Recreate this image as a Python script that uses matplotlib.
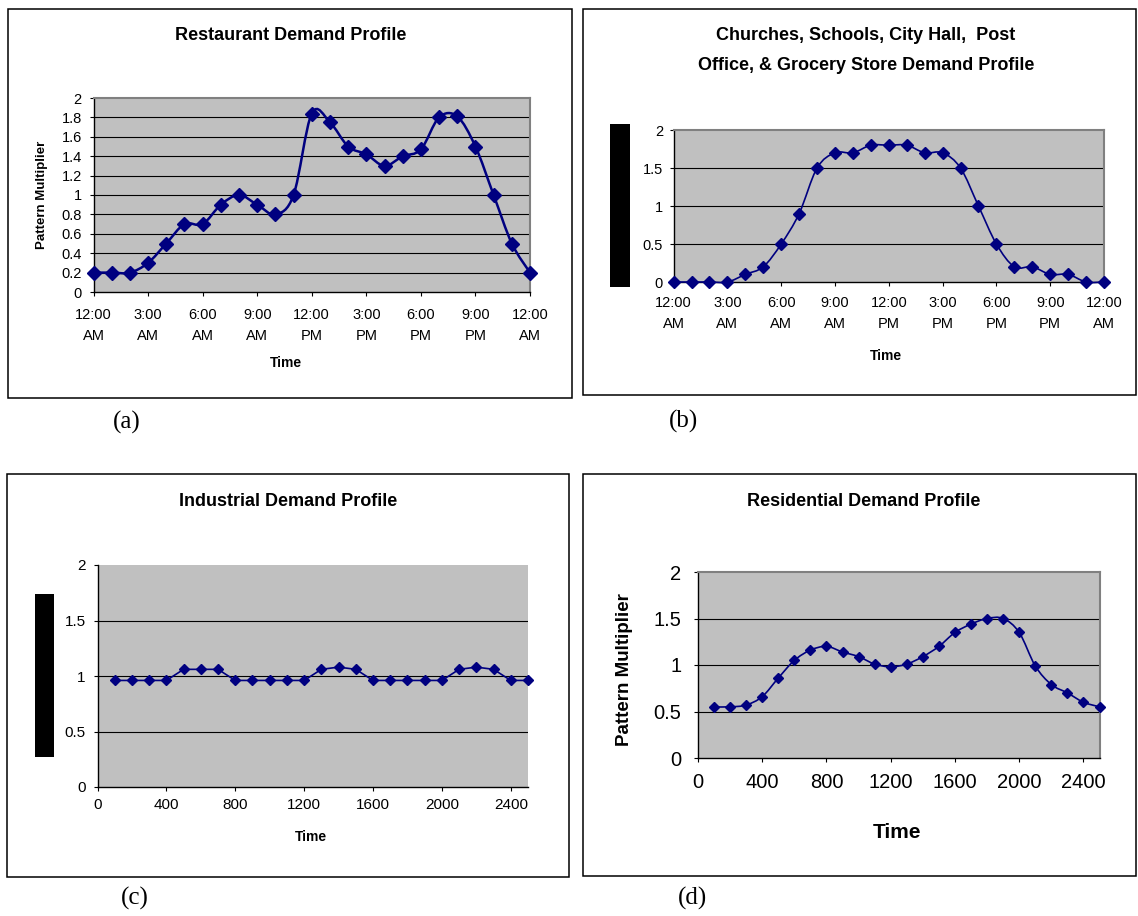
import numpy as np
import matplotlib
matplotlib.use('Agg')
import matplotlib.pyplot as plt
from matplotlib.path import Path
from matplotlib.patches import PathPatch, Rectangle

plt.rcParams['font.family'] = ['Liberation Sans', 'DejaVu Sans']

# ---------------- data ----------------
hours = [0, 1, 2, 3, 4, 5, 6, 7, 8, 9, 10, 11, 12, 13, 14, 15, 16, 17, 18, 19, 20, 21, 22, 23, 24]
hour_ticks = [0, 3, 6, 9, 12, 15, 18, 21, 24]
hour_labels = ['12:00\nAM', '3:00\nAM', '6:00\nAM', '9:00\nAM', '12:00\nPM',
               '3:00\nPM', '6:00\nPM', '9:00\nPM', '12:00\nAM']
restaurant = [0.2, 0.2, 0.2, 0.3, 0.5, 0.7, 0.7, 0.9, 1.0, 0.9, 0.8, 1.0, 1.84,
              1.75, 1.5, 1.42, 1.3, 1.4, 1.47, 1.8, 1.81, 1.5, 1.0, 0.5, 0.2]
public = [0, 0, 0, 0, 0.1, 0.2, 0.5, 0.9, 1.5, 1.7, 1.7, 1.8, 1.8, 1.8, 1.7, 1.7,
          1.5, 1.0, 0.5, 0.2, 0.2, 0.1, 0.1, 0, 0]

times = [100, 200, 300, 400, 500, 600, 700, 800, 900, 1000, 1100, 1200, 1300,
         1400, 1500, 1600, 1700, 1800, 1900, 2000, 2100, 2200, 2300, 2400, 2500]
time_ticks = [0, 400, 800, 1200, 1600, 2000, 2400]
industrial = [0.96, 0.96, 0.96, 0.96, 1.06, 1.06, 1.06, 0.96, 0.96, 0.96, 0.96, 0.96,
              1.06, 1.08, 1.06, 0.96, 0.96, 0.96, 0.96, 0.96, 1.06, 1.08, 1.06, 0.96, 0.96]
residential = [0.55, 0.55, 0.57, 0.66, 0.86, 1.05, 1.16, 1.2, 1.14, 1.09, 1.01, 0.98,
               1.01, 1.09, 1.2, 1.35, 1.44, 1.5, 1.5, 1.35, 0.99, 0.79, 0.7, 0.6, 0.55]

titles = ['Restaurant Demand Profile',
          'Churches, Schools, City Hall,  Post',
          'Office, & Grocery Store Demand Profile',
          'Industrial Demand Profile',
          'Residential Demand Profile']
ylabel_text = 'Pattern Multiplier'
xlabel_text = 'Time'
panel_tags = ['(a)', '(b)', '(c)', '(d)']

NAVY = '#000080'
GREY = '#C0C0C0'
W, H = 1138, 916

fig = plt.figure(figsize=(W / 100, H / 100), dpi=100)


def fx(px):
    return px / W


def fy(py):
    return 1 - py / H


def ax_at(x0, y0, x1, y1):
    return fig.add_axes([fx(x0), fy(y1), (x1 - x0) / W, (y1 - y0) / H])


def smooth_path(x, y):
    x = np.asarray(x, float)
    y = np.asarray(y, float)
    n = len(x)
    verts = [(x[0], y[0])]
    codes = [Path.MOVETO]
    for i in range(n - 1):
        xa, ya = (x[i - 1], y[i - 1]) if i > 0 else (x[i], y[i])
        xb, yb = (x[i + 2], y[i + 2]) if i + 2 < n else (x[i + 1], y[i + 1])
        c1 = (x[i] + (x[i + 1] - xa) / 6, y[i] + (y[i + 1] - ya) / 6)
        c2 = (x[i + 1] - (xb - x[i]) / 6, y[i + 1] - (yb - y[i]) / 6)
        verts += [c1, c2, (x[i + 1], y[i + 1])]
        codes += [Path.CURVE4] * 3
    return Path(verts, codes)


def style(ax, yticks, xticks, xlabels, xlim, border=True, fs=10.5, ypad=5.4, xpad=6):
    ax.set_facecolor(GREY)
    ax.set_xlim(*xlim)
    ax.set_ylim(yticks[0], yticks[-1])
    for t in yticks[1:-1]:
        ax.axhline(t, color='black', lw=0.8, zorder=1)
    ax.set_yticks(yticks)
    ax.set_yticklabels([f'{v:g}' for v in yticks])
    ax.set_xticks(xticks)
    ax.set_xticklabels(xlabels)
    ax.tick_params(axis='both', direction='out', length=3, width=0.8, colors='black',
                   labelsize=fs)
    ax.tick_params(axis='y', pad=ypad)
    ax.tick_params(axis='x', pad=xpad)
    for s in ['left', 'bottom']:
        ax.spines[s].set_color('black')
        ax.spines[s].set_linewidth(1.0)
    for s in ['top', 'right']:
        if border:
            ax.spines[s].set_color('#808080')
            ax.spines[s].set_linewidth(1.5)
        else:
            ax.spines[s].set_visible(False)


def draw_series(ax, x, y, smooth, lw, ms):
    if smooth:
        ax.add_patch(PathPatch(smooth_path(x, y), fill=False, edgecolor=NAVY, lw=lw,
                               zorder=3, clip_on=False))
        ax.plot(x, y, linestyle='none', marker='D', ms=ms, color=NAVY, zorder=4,
                clip_on=False)
    else:
        ax.plot(x, y, '-', lw=lw, marker='D', ms=ms, color=NAVY, zorder=4, clip_on=False)


def box(x0, y0, x1, y1):
    fig.add_artist(Rectangle((fx(x0), fy(y1)), (x1 - x0) / W, (y1 - y0) / H,
                             transform=fig.transFigure, fill=False,
                             edgecolor='black', lw=1.1))


def bar(x0, y0, x1, y1):
    fig.add_artist(Rectangle((fx(x0), fy(y1)), (x1 - x0) / W, (y1 - y0) / H,
                             transform=fig.transFigure, facecolor='black',
                             edgecolor='none'))


def ftext(x, y, s, size, bold=True, rot=0, family=None, ls=1.2):
    kw = {}
    if family:
        kw['family'] = family
    fig.text(fx(x), fy(y), s, ha='center', va='center', fontsize=size,
             fontweight='bold' if bold else 'normal', rotation=rot, linespacing=ls, **kw)


# frames
box(8, 9, 572, 398)
box(583, 9, 1136, 395)
box(7, 474, 569, 877)
box(583, 474, 1136, 876)

# (a) Restaurant
axa = ax_at(93.5, 98, 530, 292)
style(axa, [0, 0.2, 0.4, 0.6, 0.8, 1, 1.2, 1.4, 1.6, 1.8, 2], hour_ticks, hour_labels,
      (0, 24), fs=10.5, ypad=5.4, xpad=8.5)
for lab in axa.get_xticklabels():
    lab.set_linespacing(1.6)
draw_series(axa, hours, restaurant, True, 1.8, 7.3)
ftext(291, 36, titles[0], 13)
ftext(42, 195, ylabel_text, 9.5, rot=90)
ftext(286, 363, xlabel_text, 10)

# (b) Public buildings
axb = ax_at(673.6, 130, 1104, 282)
style(axb, [0, 0.5, 1, 1.5, 2], hour_ticks, hour_labels, (0, 24), fs=10.5, ypad=4.7, xpad=7)
for lab in axb.get_xticklabels():
    lab.set_linespacing(1.65)
draw_series(axb, hours, public, True, 1.2, 6.1)
ftext(866, 36, titles[1], 13)
ftext(866, 65, titles[2], 13)
ftext(886, 356, xlabel_text, 10)
bar(610, 124, 630, 287)

# (c) Industrial
axc = ax_at(97.5, 565, 528, 787)
style(axc, [0, 0.5, 1, 1.5, 2], time_ticks, [str(t) for t in time_ticks], (0, 2500),
      border=False, fs=11, ypad=5.4, xpad=5)
draw_series(axc, times, industrial, False, 1.2, 5.6)
ftext(288, 502, titles[3], 13)
ftext(311, 837, xlabel_text, 10)
bar(34.5, 594, 54, 757)

# (d) Residential
axd = ax_at(698, 572, 1099.5, 758)
style(axd, [0, 0.5, 1, 1.5, 2], time_ticks, [str(t) for t in time_ticks], (0, 2500),
      fs=14.5, ypad=9, xpad=8)
draw_series(axd, times, residential, True, 1.2, 5.3)
ftext(864, 502, titles[4], 13)
ftext(624.5, 670, ylabel_text, 13.5, rot=90)
ftext(897, 832, xlabel_text, 15)

# panel tags
for (x, y), tag in zip([(127, 422), (683, 421), (135, 898), (692, 898)], panel_tags):
    ftext(x, y, tag, 18, bold=False, family=['Liberation Serif', 'DejaVu Serif'])

fig.savefig('out.png', dpi=100)
